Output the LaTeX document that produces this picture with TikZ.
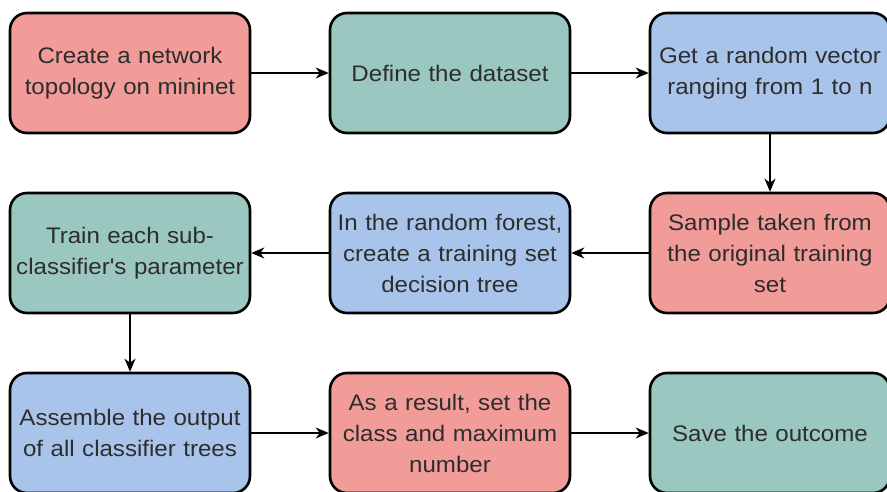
\documentclass[tikz,border=0pt]{standalone}
\usepackage{fontspec}
\setmainfont{Liberation Sans}[FakeStretch=1.07, Ligatures=TeXOff]
\usetikzlibrary{arrows.meta}
\definecolor{cred}{HTML}{F19C99}
\definecolor{cgreen}{HTML}{9AC7BF}
\definecolor{cblue}{HTML}{A9C4EB}
\definecolor{ctext}{HTML}{2D2D2D}
\tikzset{
  box/.style={draw=black, line width=2.6pt, rounded corners=17pt,
    minimum width=240pt, minimum height=120pt, inner sep=2pt,
    text width=236pt, align=center, text=ctext,
    font=\fontsize{22.5pt}{31pt}\selectfont},
  redbox/.style={box, fill=cred},
  greenbox/.style={box, fill=cgreen},
  bluebox/.style={box, fill=cblue},
  conn/.style={draw=black, line width=1.4pt, -{Stealth[length=13pt,width=11pt,inset=4pt]}}
}
\begin{document}
\begin{tikzpicture}[x=1pt,y=-1pt]
\useasboundingbox (0,0) rectangle (887,492);
\node[redbox]   (a) at (130,73)  {Create a network\\topology on mininet};
\node[greenbox] (b) at (450,73)  {Define the dataset};
\node[bluebox]  (c) at (770,73)  {Get a random vector\\ranging from 1 to n};
\node[redbox]   (d) at (770,253) {Sample taken from\\the original training\\set};
\node[bluebox]  (e) at (450,253) {In the random forest,\\create a training set\\decision tree};
\node[greenbox] (f) at (130,253) {Train each sub-\\classifier's parameter};
\node[bluebox]  (g) at (130,433) {Assemble the output\\of all classifier trees};
\node[redbox]   (h) at (450,433) {As a result, set the\\class and maximum\\number};
\node[greenbox] (i) at (770,433) {Save the outcome};
\draw[conn] (a) -- (b);
\draw[conn] (b) -- (c);
\draw[conn] (c) -- (d);
\draw[conn] (d) -- (e);
\draw[conn] (e) -- (f);
\draw[conn] (f) -- (g);
\draw[conn] (g) -- (h);
\draw[conn] (h) -- (i);
\end{tikzpicture}
\end{document}
